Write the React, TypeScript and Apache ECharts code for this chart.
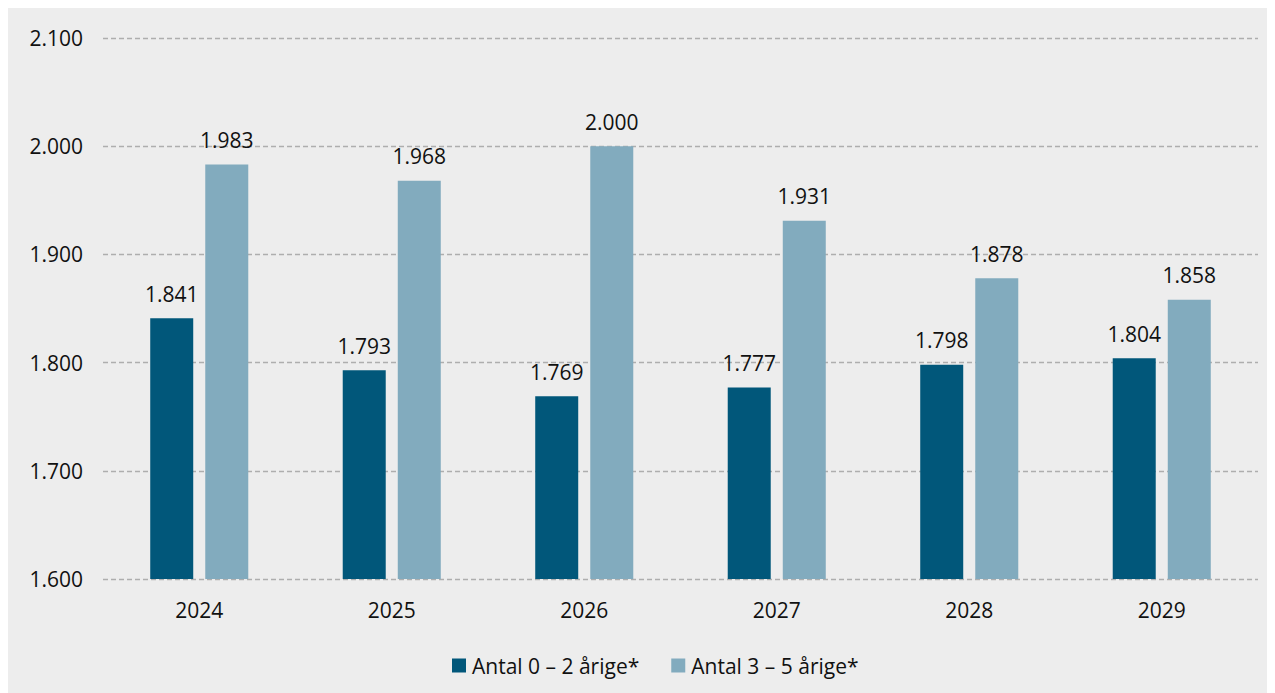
import React, { useEffect, useRef } from "react";
import * as echarts from "echarts";

const years = ["2024", "2025", "2026", "2027", "2028", "2029"];
const age0to2 = [1841, 1793, 1769, 1777, 1798, 1804];
const age3to5 = [1983, 1968, 2000, 1931, 1878, 1858];
const seriesNames = ["Antal 0 – 2 årige*", "Antal 3 – 5 årige*"];
const yMin = 1600;
const yMax = 2100;
const yStep = 100;

const fmt = (v: number) => {
  const s = String(Math.round(v));
  return s.replace(/\B(?=(\d{3})+(?!\d))/g, ".");
};

const FONT = "'Open Sans', 'Noto Sans', sans-serif";
const FS = 21;

export default function App() {
  const ref = useRef<HTMLDivElement>(null);
  useEffect(() => {
    if (!ref.current) return;
    const chart = echarts.init(ref.current, null, { renderer: "svg" });
    const label = {
      show: true,
      position: "top" as const,
      distance: 14,
      color: "#111",
      fontSize: FS,
      fontFamily: FONT,
      formatter: (p: any) => fmt(p.value),
    };
    chart.setOption({
      animation: false,
      backgroundColor: "#EDEDED",
      textStyle: { fontFamily: FONT },
      grid: { left: 95, right: 17, top: 30, bottom: 114 },
      legend: {
        top: 642,
        left: 439,
        itemWidth: 14,
        itemHeight: 14,
        itemGap: 32,
        icon: "rect",
        textStyle: { fontSize: FS, color: "#111", fontFamily: FONT, padding: [0, 0, 0, 1] },
        data: seriesNames,
      },
      xAxis: {
        type: "category",
        data: years,
        axisLine: { show: false },
        axisTick: { show: false },
        axisLabel: { fontSize: FS, color: "#111", margin: 20, fontFamily: FONT },
      },
      yAxis: {
        type: "value",
        min: yMin,
        max: yMax,
        interval: yStep,
        axisLine: { show: false },
        axisTick: { show: false },
        axisLabel: {
          fontSize: FS,
          color: "#111",
          margin: 20,
          fontFamily: FONT,
          formatter: (v: number) => fmt(v),
        },
        splitLine: { lineStyle: { color: "#AEAEAE", type: [5, 3], width: 1.3 } },
      },
      series: [
        {
          name: seriesNames[0],
          type: "bar",
          data: age0to2,
          barWidth: 43,
          barGap: "28%",
          itemStyle: { color: "#01577A" },
          label,
        },
        {
          name: seriesNames[1],
          type: "bar",
          data: age3to5,
          barWidth: 43,
          itemStyle: { color: "#82ABBE" },
          label,
        },
      ],
    });
    return () => chart.dispose();
  }, []);
  return <div ref={ref} style={{ width: 1267, height: 685 }} />;
}
